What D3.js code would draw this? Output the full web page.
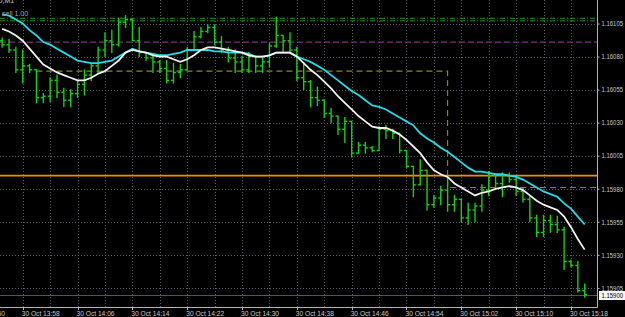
<!DOCTYPE html>
<html>
<head>
<meta charset="utf-8">
<script src="https://cdnjs.cloudflare.com/ajax/libs/d3/7.8.5/d3.min.js"></script>
<style>
  html, body { margin: 0; padding: 0; background: #000; }
  svg { display: block; }
  text { font-family: "Liberation Sans", Arial, sans-serif; }
</style>
</head>
<body>
<div class="chart"></div>
<script>
// EURUSD M1, 30 Oct 13:55 - 15:20
var opens  = [1.16092,1.16089,1.16085,1.16070,1.16073,1.16070,1.16049,1.16050,1.16062,1.16053,
              1.16047,1.16052,1.16059,1.16066,1.16073,1.16085,1.16092,1.16089,1.16106,1.16108,
              1.16092,1.16083,1.16079,1.16076,1.16071,1.16062,1.16068,1.16070,1.16085,1.16095,
              1.16099,1.16102,1.16091,1.16085,1.16079,1.16076,1.16070,1.16080,1.16073,1.16076,
              1.16088,1.16096,1.16092,1.16085,1.16064,1.16061,1.16049,1.16047,1.16037,1.16035,
              1.16025,1.16031,1.16007,1.16013,1.16011,1.16009,1.16025,1.16024,1.16022,1.16009,
              1.15997,1.15983,1.15994,1.15968,1.15973,1.15979,1.15968,1.15972,1.15958,1.15964,
              1.15967,1.15979,1.15990,1.15984,1.15990,1.15987,1.15978,1.15972,1.15958,1.15947,
              1.15956,1.15953,1.15949,1.15925,1.15922,1.15903];
var highs  = [1.16094,1.16093,1.16087,1.16085,1.16074,1.16070,1.16052,1.16064,1.16066,1.16056,
              1.16055,1.16062,1.16070,1.16075,1.16087,1.16098,1.16100,1.16109,1.16111,1.16108,
              1.16102,1.16083,1.16080,1.16077,1.16077,1.16075,1.16074,1.16087,1.16099,1.16102,
              1.16104,1.16104,1.16095,1.16087,1.16085,1.16080,1.16083,1.16080,1.16079,1.16090,
              1.16110,1.16096,1.16098,1.16087,1.16074,1.16062,1.16057,1.16047,1.16041,1.16035,
              1.16034,1.16031,1.16015,1.16015,1.16012,1.16027,1.16028,1.16025,1.16022,1.16009,
              1.15997,1.16002,1.15994,1.15975,1.15982,1.15989,1.15975,1.15972,1.15969,1.15969,
              1.15983,1.15993,1.15990,1.15992,1.15992,1.15988,1.15981,1.15974,1.15960,1.15960,
              1.15960,1.15959,1.15951,1.15926,1.15925,1.15908];
var lows   = [1.16087,1.16083,1.16068,1.16060,1.16068,1.16045,1.16045,1.16046,1.16049,1.16042,
              1.16042,1.16049,1.16051,1.16062,1.16068,1.16080,1.16083,1.16088,1.16102,1.16092,
              1.16080,1.16077,1.16068,1.16068,1.16060,1.16060,1.16064,1.16070,1.16085,1.16094,
              1.16098,1.16089,1.16083,1.16076,1.16068,1.16068,1.16068,1.16068,1.16068,1.16072,
              1.16087,1.16083,1.16083,1.16062,1.16055,1.16042,1.16043,1.16034,1.16030,1.16021,
              1.16015,1.16004,1.16007,1.16007,1.16008,1.16009,1.16018,1.16018,1.16007,1.15996,
              1.15974,1.15983,1.15964,1.15966,1.15968,1.15963,1.15963,1.15955,1.15953,1.15955,
              1.15963,1.15975,1.15980,1.15974,1.15985,1.15975,1.15970,1.15955,1.15944,1.15944,
              1.15947,1.15947,1.15919,1.15921,1.15902,1.15898];
var closes = [1.16089,1.16085,1.16070,1.16073,1.16070,1.16049,1.16050,1.16062,1.16053,1.16047,
              1.16052,1.16059,1.16066,1.16073,1.16085,1.16092,1.16089,1.16106,1.16108,1.16092,
              1.16083,1.16079,1.16076,1.16071,1.16062,1.16068,1.16070,1.16085,1.16095,1.16099,
              1.16102,1.16091,1.16085,1.16079,1.16076,1.16070,1.16080,1.16073,1.16076,1.16088,
              1.16096,1.16092,1.16085,1.16064,1.16061,1.16049,1.16047,1.16037,1.16035,1.16025,
              1.16031,1.16007,1.16013,1.16011,1.16009,1.16025,1.16024,1.16022,1.16009,1.15997,
              1.15983,1.15994,1.15968,1.15973,1.15979,1.15968,1.15972,1.15958,1.15964,1.15967,
              1.15979,1.15990,1.15984,1.15990,1.15987,1.15978,1.15972,1.15958,1.15947,1.15956,
              1.15953,1.15949,1.15925,1.15922,1.15903,1.15900];

// moving averages
var maSlow = [1.16112,1.16111,1.16108,1.16105,1.16100,1.16096,1.16091,1.16089,1.16086,1.16083,
              1.16080,1.16077,1.16076,1.16075,1.16075,1.16076,1.16077,1.16080,1.16083,1.16086,
              1.16084,1.16083,1.16082,1.16081,1.16081,1.16082,1.16083,1.16085,1.16085,1.16085,
              1.16085,1.16084,1.16084,1.16083,1.16083,1.16083,1.16082,1.16080,1.16080,1.16081,
              1.16083,1.16083,1.16083,1.16080,1.16078,1.16076,1.16073,1.16070,1.16066,1.16062,
              1.16058,1.16054,1.16051,1.16047,1.16043,1.16042,1.16040,1.16037,1.16034,1.16031,
              1.16028,1.16022,1.16018,1.16015,1.16011,1.16008,1.16004,1.16000,1.15996,1.15993,
              1.15993,1.15992,1.15991,1.15991,1.15990,1.15989,1.15987,1.15984,1.15981,1.15978,
              1.15976,1.15974,1.15969,1.15965,1.15959,1.15953];
var maFast = [1.16101,1.16099,1.16096,1.16092,1.16086,1.16080,1.16074,1.16071,1.16068,1.16066,
              1.16064,1.16062,1.16062,1.16064,1.16067,1.16069,1.16073,1.16077,1.16083,1.16085,
              1.16084,1.16083,1.16081,1.16080,1.16080,1.16078,1.16076,1.16078,1.16081,1.16085,
              1.16087,1.16087,1.16086,1.16085,1.16084,1.16083,1.16081,1.16080,1.16080,1.16081,
              1.16083,1.16083,1.16083,1.16080,1.16075,1.16070,1.16066,1.16061,1.16056,1.16050,
              1.16045,1.16040,1.16035,1.16031,1.16027,1.16026,1.16026,1.16024,1.16021,1.16017,
              1.16012,1.16007,1.16000,1.15994,1.15991,1.15989,1.15984,1.15981,1.15978,1.15975,
              1.15977,1.15978,1.15980,1.15981,1.15982,1.15981,1.15979,1.15975,1.15971,1.15968,
              1.15966,1.15964,1.15959,1.15951,1.15942,1.15934];

var priceTicks = [1.16105, 1.16080, 1.16055, 1.16030, 1.16005, 1.15980, 1.15955, 1.15930, 1.15905];
var timeTicks = ["13:50", "13:58", "14:06", "14:14", "14:22", "14:30", "14:38", "14:46", "14:54", "15:02", "15:10", "15:18"];

var bidPrice = 1.15900;
var orangeLevel = 1.15990;
var purpleLevel = 1.16091;
var greenLevels = [1.16109, 1.16107];
var tradeTimes = ["14:00", "15:00", "15:00", "15:25"];
var tradePrices = [1.16069, 1.16069, 1.15981, 1.15981];

var W = 625, H = 317;
var plotRight = 597, plotBottom = 307;

var parseHM = function(s) {
  var p = s.split(":");
  return new Date(2018, 9, 30, +p[0], +p[1]);
};
var t0 = parseHM("13:55");
var barTimes = opens.map((d, i) => d3.timeMinute.offset(t0, i));

var x = d3.scaleTime()
  .domain([d3.timeSecond.offset(t0, -19), d3.timeSecond.offset(t0, 5208)])
  .range([0, plotRight]);

var y = d3.scaleLinear()
  .domain([1.158906, 1.161228])
  .range([plotBottom, 0]);

var svg = d3.select(".chart").append("svg")
  .attr("width", W)
  .attr("height", H)
  .style("background", "#000");

var plot = svg.append("g");
plot.append("clipPath").attr("id", "clip")
  .append("rect").attr("width", plotRight).attr("height", plotBottom);
var inner = plot.append("g").attr("clip-path", "url(#clip)");

// grid
var gridTimes = d3.range(-1, 22).map(k => d3.timeMinute.offset(t0, 3 + 4 * k));
inner.selectAll(".vgrid")
  .data(gridTimes)
  .enter().append("line")
    .attr("x1", d => Math.round(x(d)) + 0.5)
    .attr("x2", d => Math.round(x(d)) + 0.5)
    .attr("y1", 0).attr("y2", plotBottom)
    .attr("stroke", "#55606c")
    .attr("stroke-dasharray", "1,2");

inner.selectAll(".hgrid")
  .data(priceTicks)
  .enter().append("line")
    .attr("x1", 0).attr("x2", plotRight)
    .attr("y1", d => Math.round(y(d)) + 0.5)
    .attr("y2", d => Math.round(y(d)) + 0.5)
    .attr("stroke", "#55606c")
    .attr("stroke-dasharray", "1,2");

// horizontal levels
inner.selectAll(".green-level")
  .data(greenLevels)
  .enter().append("line")
    .attr("x1", 0).attr("x2", plotRight)
    .attr("y1", d => y(d)).attr("y2", d => y(d))
    .attr("stroke", "#1f8f1f")
    .attr("stroke-dasharray", "5,2,1,2");

inner.append("line")
  .attr("x1", 0).attr("x2", plotRight)
  .attr("y1", y(purpleLevel)).attr("y2", y(purpleLevel))
  .attr("stroke", "#7a357a")
  .attr("stroke-width", 1.2)
  .attr("stroke-dasharray", "6,3");

inner.append("line")
  .attr("x1", 0).attr("x2", plotRight)
  .attr("y1", Math.round(y(bidPrice)) + 0.5).attr("y2", Math.round(y(bidPrice)) + 0.5)
  .attr("stroke", "#4e565e");

var tradeLine = d3.line()
  .x(d => x(parseHM(d[0])))
  .y(d => y(d[1]));
inner.append("path")
  .attr("d", tradeLine(d3.zip(tradeTimes, tradePrices)))
  .attr("fill", "none")
  .attr("stroke", "#8c8c18")
  .attr("stroke-width", 1.1)
  .attr("stroke-dasharray", "6,4");

inner.append("line")
  .attr("x1", 0).attr("x2", plotRight)
  .attr("y1", y(orangeLevel)).attr("y2", y(orangeLevel))
  .attr("stroke", "#e8900c")
  .attr("stroke-width", 1.6);

// OHLC bars
var bars = inner.selectAll(".bar")
  .data(barTimes)
  .enter().append("g")
    .attr("class", "bar")
    .attr("stroke", "#12d012")
    .attr("stroke-width", 1.4);

bars.append("line")
  .attr("x1", d => x(d)).attr("x2", d => x(d))
  .attr("y1", (d, i) => y(highs[i]) - 0.5)
  .attr("y2", (d, i) => y(lows[i]) + 0.5);
bars.append("line")
  .attr("x1", d => x(d) - 2.5).attr("x2", d => x(d))
  .attr("y1", (d, i) => y(opens[i])).attr("y2", (d, i) => y(opens[i]));
bars.append("line")
  .attr("x1", d => x(d)).attr("x2", d => x(d) + 2.5)
  .attr("y1", (d, i) => y(closes[i])).attr("y2", (d, i) => y(closes[i]));

// moving averages
var maLine = d3.line()
  .x((d, i) => x(barTimes[i]))
  .y(d => y(d));

inner.append("path")
  .attr("d", maLine(maSlow))
  .attr("fill", "none")
  .attr("stroke", "#24dbe6")
  .attr("stroke-width", 1.8);

inner.append("path")
  .attr("d", maLine(maFast))
  .attr("fill", "none")
  .attr("stroke", "#f2f2f2")
  .attr("stroke-width", 1.8);

// top-left captions
plot.append("text")
  .attr("x", -27).attr("y", 3)
  .attr("fill", "#cfcfcf")
  .attr("font-size", 7)
  .text("EURUSD,M1");
plot.append("text")
  .attr("x", 2).attr("y", 16)
  .attr("fill", "#9da3a3")
  .attr("font-size", 7)
  .text("sell 1.00");

// borders
svg.append("line")
  .attr("x1", plotRight + 0.5).attr("x2", plotRight + 0.5)
  .attr("y1", 0).attr("y2", plotBottom + 0.5)
  .attr("stroke", "#b4b4b4");
svg.append("line")
  .attr("x1", 0).attr("x2", plotRight + 0.5)
  .attr("y1", plotBottom + 0.5).attr("y2", plotBottom + 0.5)
  .attr("stroke", "#b4b4b4");

// price axis
var yAxis = d3.axisRight(y)
  .tickValues(priceTicks)
  .tickFormat(d3.format(".5f"))
  .tickSize(2)
  .tickPadding(2);

var gY = svg.append("g")
  .attr("transform", `translate(${plotRight + 0.5}, 0)`)
  .call(yAxis);
gY.select(".domain").remove();
gY.selectAll("line").attr("stroke", "#b4b4b4");
gY.selectAll("text")
  .attr("x", 4)
  .attr("fill", "#c8c8c8")
  .attr("font-size", 7)
  .attr("textLength", 21.5)
  .attr("lengthAdjust", "spacingAndGlyphs")
  .attr("font-family", "'Liberation Sans', Arial, sans-serif");

// current price tag
var bidY = Math.round(y(bidPrice));
svg.append("rect")
  .attr("x", plotRight + 2).attr("y", bidY - 4)
  .attr("width", W - plotRight - 2).attr("height", 9)
  .attr("fill", "#f4f4f4");
svg.append("text")
  .attr("x", plotRight + 4.5).attr("y", bidY + 3)
  .attr("fill", "#000")
  .attr("font-size", 7)
  .attr("textLength", 21.5)
  .attr("lengthAdjust", "spacingAndGlyphs")
  .text(d3.format(".5f")(bidPrice));

// time axis
var gX = svg.append("g");
gX.selectAll("text")
  .data(timeTicks)
  .enter().append("text")
    .attr("x", d => x(parseHM(d)) - 1)
    .attr("y", 316)
    .attr("fill", "#c8c8c8")
    .attr("font-size", 7)
    .attr("textLength", 38)
    .attr("lengthAdjust", "spacingAndGlyphs")
    .text(d => "30 Oct " + d);
gX.selectAll("line")
  .data(timeTicks)
  .enter().append("line")
    .attr("x1", d => Math.round(x(parseHM(d))) + 0.5)
    .attr("x2", d => Math.round(x(parseHM(d))) + 0.5)
    .attr("y1", plotBottom).attr("y2", plotBottom + 3)
    .attr("stroke", "#b4b4b4");
</script>
</body>
</html>
